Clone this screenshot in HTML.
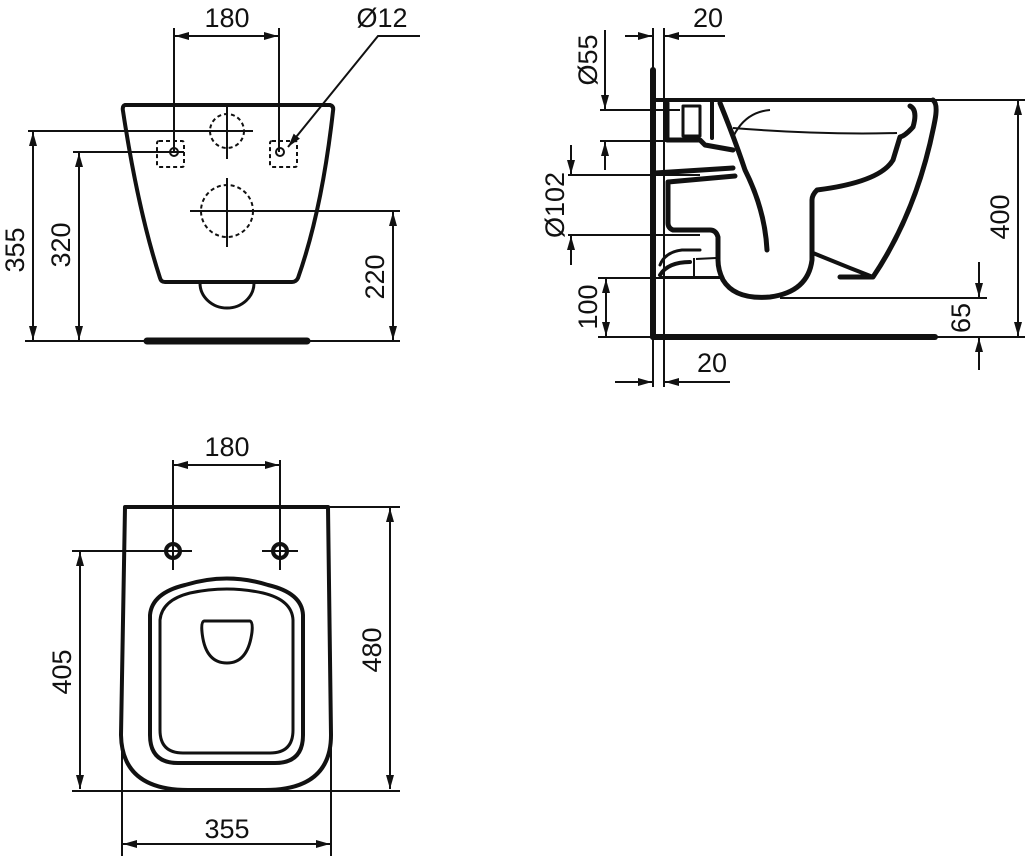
<!DOCTYPE html>
<html><head><meta charset="utf-8"><style>
html,body{margin:0;padding:0;background:#fff;}
svg{display:block;}
text{font-family:"Liberation Sans",sans-serif;font-size:27px;fill:#111;}
</style></head><body>
<svg width="1027" height="856" viewBox="0 0 1027 856" xmlns="http://www.w3.org/2000/svg">
<defs>
<marker id="a" viewBox="0 0 14 8" refX="14" refY="4" markerWidth="14" markerHeight="8" markerUnits="userSpaceOnUse" orient="auto-start-reverse">
<path d="M0,0 L14,4 L0,8 Z" fill="#111"/></marker>
</defs>
<g stroke="#111" fill="none" stroke-width="2">
<!-- ===== FRONT VIEW ===== -->
<line x1="174" y1="28" x2="174" y2="152"/>
<line x1="279" y1="28" x2="279" y2="152"/>
<line x1="175" y1="36" x2="278" y2="36" marker-start="url(#a)" marker-end="url(#a)"/>
<polyline points="420,36 378,36 288,147" marker-end="url(#a)"/>
<path d="M125,105 L330,105 Q334,106 333,111 Q322,210 298,278 Q296,282 292,282 L165,282 Q161,282 160,278 Q138,210 123,111 Q122,106 125,105 Z" stroke-width="4"/>
<path d="M200,283 A27,25 0 0 0 254,283" stroke-width="3"/>
<line x1="147" y1="341" x2="307" y2="341" stroke-width="7" stroke-linecap="round"/>
<line x1="25" y1="341" x2="400" y2="341"/>
<line x1="28" y1="131" x2="253" y2="131"/>
<line x1="33" y1="132" x2="33" y2="340" marker-start="url(#a)" marker-end="url(#a)"/>
<line x1="73" y1="152" x2="184" y2="152"/>
<line x1="79" y1="153" x2="79" y2="340" marker-start="url(#a)" marker-end="url(#a)"/>
<g stroke-dasharray="4,3">
<rect x="157" y="141" width="27" height="26" rx="2"/>
<rect x="270" y="141" width="27" height="26" rx="2"/>
<circle cx="227" cy="131" r="17"/>
<circle cx="227" cy="211" r="26"/>
</g>
<circle cx="174" cy="152" r="4"/><circle cx="280" cy="152" r="4"/>
<line x1="227" y1="107" x2="227" y2="159"/>
<line x1="227" y1="178" x2="227" y2="247"/>
<line x1="190" y1="211" x2="400" y2="211"/>
<line x1="393" y1="212" x2="393" y2="340" marker-start="url(#a)" marker-end="url(#a)"/>
</g>
<text x="227" y="27" text-anchor="middle">180</text>
<text x="382" y="27" text-anchor="middle">Ø12</text>
<text transform="translate(24,250) rotate(-90)" text-anchor="middle">355</text>
<text transform="translate(70,245) rotate(-90)" text-anchor="middle">320</text>
<text transform="translate(384,277) rotate(-90)" text-anchor="middle">220</text>

<!-- ===== SIDE VIEW ===== -->
<g stroke="#111" fill="none" stroke-width="2">
<line x1="653" y1="28" x2="653" y2="387"/>
<line x1="664" y1="28" x2="664" y2="387"/>
<line x1="625" y1="36" x2="652" y2="36" marker-end="url(#a)"/>
<line x1="725" y1="36" x2="665" y2="36" marker-end="url(#a)"/>
<line x1="615" y1="382" x2="652" y2="382" marker-end="url(#a)"/>
<line x1="730" y1="382" x2="665" y2="382" marker-end="url(#a)"/>
<line x1="600" y1="110" x2="680" y2="110"/>
<line x1="600" y1="141" x2="680" y2="141"/>
<line x1="605" y1="30" x2="605" y2="109" marker-end="url(#a)"/>
<line x1="605" y1="170" x2="605" y2="142" marker-end="url(#a)"/>
<line x1="568" y1="175" x2="700" y2="175"/>
<line x1="568" y1="235" x2="700" y2="235"/>
<line x1="571" y1="145" x2="571" y2="174" marker-end="url(#a)"/>
<line x1="571" y1="265" x2="571" y2="236" marker-end="url(#a)"/>
<line x1="598" y1="278" x2="720" y2="278"/>
<line x1="606" y1="279" x2="606" y2="336" marker-start="url(#a)" marker-end="url(#a)"/>
<line x1="598" y1="337" x2="653" y2="337"/>
<line x1="935" y1="100" x2="1025" y2="100"/>
<line x1="1018" y1="101" x2="1018" y2="336" marker-start="url(#a)" marker-end="url(#a)"/>
<line x1="935" y1="337" x2="1025" y2="337"/>
<line x1="780" y1="298" x2="987" y2="298"/>
<line x1="979" y1="262" x2="979" y2="297" marker-end="url(#a)"/>
<line x1="979" y1="370" x2="979" y2="338" marker-end="url(#a)"/>
<path d="M770,110 Q745,112 733,137"/>
<path d="M733,128 Q820,135 897,133"/>
<line x1="694" y1="258" x2="694" y2="277"/>
<line x1="696" y1="259" x2="716" y2="258"/>
<line x1="660" y1="277" x2="720" y2="277"/>
</g>
<g stroke="#111" fill="none" stroke-linejoin="round" stroke-linecap="round">
<line x1="653" y1="70" x2="653" y2="337" stroke-width="6"/>
<line x1="653" y1="337" x2="935" y2="337" stroke-width="6"/>
<line x1="655" y1="100" x2="933" y2="100" stroke-width="4"/>
<path d="M933,100 Q938,104 935,120 Q918,210 873,277 L840,277" stroke-width="5"/>
<path d="M910,106 Q918,110 913,127 Q905,136 900,137 Q896,150 893,160 Q880,182 817,190 Q812,195 812,200 L812,260 Q808,292 770,297 Q735,300 723,280 Q718,270 718,260 L718,237 Q716,230 710,230 L673,230 Q668,228 668,223 L668,182 L735,176" stroke-width="5"/>
<path d="M720,103 Q735,140 745,170 Q765,210 767,250" stroke-width="5"/>
<path d="M655,173 L733,168" stroke-width="5"/>
<path d="M813,253 L850,268 L873,277" stroke-width="4"/>
<path d="M667,103 L667,140 L700,140 L705,145 L733,150" stroke-width="5"/>
<rect x="683" y="106" width="17" height="30" stroke-width="3"/>
<line x1="712" y1="102" x2="712" y2="138" stroke-width="4"/>
<path d="M660,265 Q665,252 682,250 L700,250" stroke-width="3"/>
<path d="M660,275 Q668,262 690,262" stroke-width="4"/>
</g>
<text x="708" y="27" text-anchor="middle">20</text>
<text x="712" y="372" text-anchor="middle">20</text>
<text transform="translate(597,60) rotate(-90)" text-anchor="middle">Ø55</text>
<text transform="translate(564,205) rotate(-90)" text-anchor="middle">Ø102</text>
<text transform="translate(597,307) rotate(-90)" text-anchor="middle">100</text>
<text transform="translate(1009,217) rotate(-90)" text-anchor="middle">400</text>
<text transform="translate(970,318) rotate(-90)" text-anchor="middle">65</text>

<!-- ===== TOP VIEW ===== -->
<g stroke="#111" fill="none" stroke-width="2">
<line x1="173" y1="460" x2="173" y2="570"/>
<line x1="280" y1="460" x2="280" y2="570"/>
<line x1="174" y1="465" x2="279" y2="465" marker-start="url(#a)" marker-end="url(#a)"/>
<line x1="328" y1="507" x2="400" y2="507"/>
<line x1="390" y1="508" x2="390" y2="789" marker-start="url(#a)" marker-end="url(#a)"/>
<line x1="72" y1="551" x2="192" y2="551"/>
<line x1="262" y1="551" x2="298" y2="551"/>
<line x1="80" y1="552" x2="80" y2="789" marker-start="url(#a)" marker-end="url(#a)"/>
<line x1="72" y1="791" x2="400" y2="791"/>
<line x1="122" y1="740" x2="122" y2="856"/>
<line x1="331" y1="740" x2="331" y2="856"/>
<line x1="123" y1="844" x2="330" y2="844" marker-start="url(#a)" marker-end="url(#a)"/>
</g>
<g stroke="#111" fill="none" stroke-width="4" stroke-linejoin="round">
<path d="M125,507 L328,507 L331,735 Q331,790 265,790 L188,790 Q122,790 121,735 Z"/>
<circle cx="173" cy="551" r="7"/><circle cx="280" cy="551" r="7"/>
<path d="M150,615 Q152,593 185,585 Q227,572 268,585 Q302,593 303,615 L303,735 Q303,763 275,763 L178,763 Q150,763 150,735 Z"/>
<path d="M160,620 Q162,600 190,593 Q227,585 263,593 Q292,600 293,620 L293,730 Q293,753 270,753 L183,753 Q160,753 160,730 Z" stroke-width="3"/>
<path d="M204,621 L250,621 Q253,622 252,632 Q248,663 227,663 Q205,663 202,632 Q201,622 204,621 Z" stroke-width="3"/>
</g>
<g stroke="#111" stroke-width="2">
<line x1="173" y1="540" x2="173" y2="570"/><line x1="280" y1="540" x2="280" y2="570"/>
</g>
<text x="227" y="456" text-anchor="middle">180</text>
<text x="227" y="838" text-anchor="middle">355</text>
<text transform="translate(71,672) rotate(-90)" text-anchor="middle">405</text>
<text transform="translate(381,650) rotate(-90)" text-anchor="middle">480</text>
</svg>
</body></html>
